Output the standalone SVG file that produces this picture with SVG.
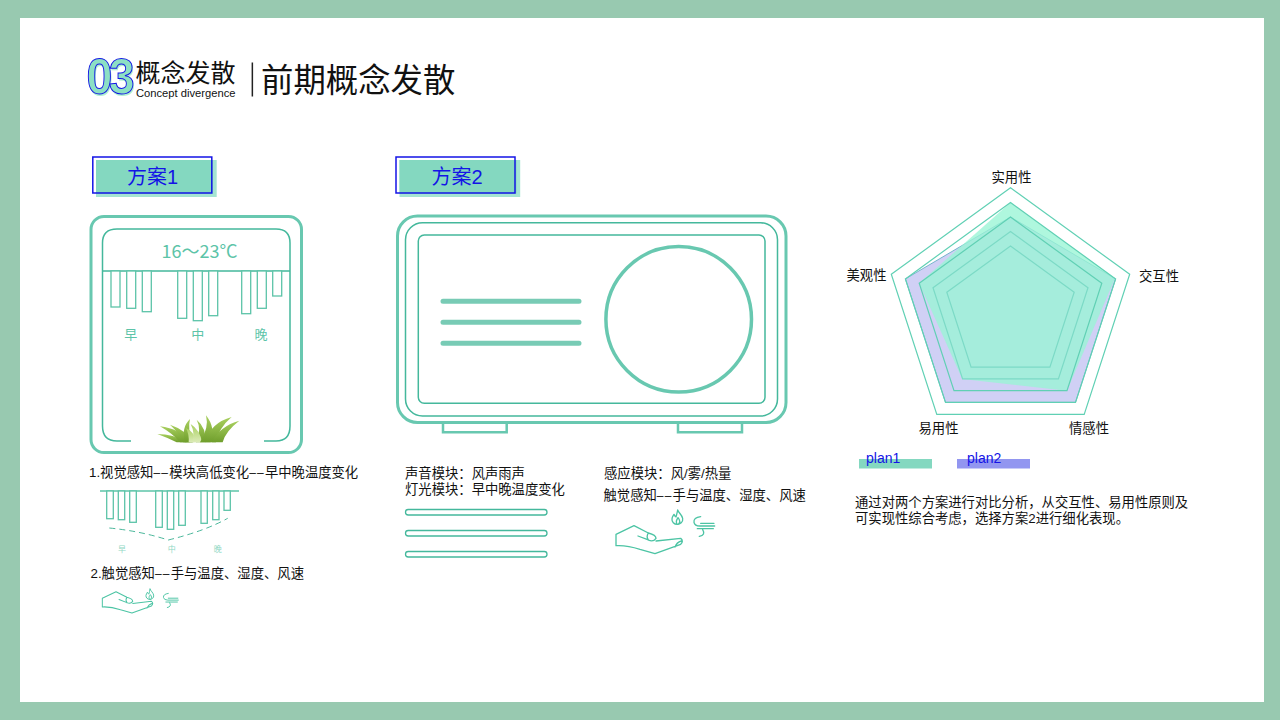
<svg xmlns="http://www.w3.org/2000/svg" xmlns:xlink="http://www.w3.org/1999/xlink" width="1280" height="720" viewBox="0 0 1280 720">
<style>
text{font-family:"Liberation Sans","Noto Sans CJK SC",sans-serif;fill:#111}
.cjk{font-family:"Noto Sans CJK SC","Liberation Sans",sans-serif}
.t13{font-size:13.330px}
.dash{font-size:12px;letter-spacing:1.200px}
.mid{text-anchor:middle}
.teal{fill:#5cc4a8}
.blue{fill:#1414e6}
.o3{fill:none;stroke:#68c8b0;stroke-width:3}
.o2{fill:none;stroke:#44b89c;stroke-width:1.5}
.bar{fill:#fff;stroke:#5cc4a8;stroke-width:1.3}
.ico{fill:none;stroke:#4cc4a4;stroke-linecap:round;stroke-linejoin:round}
.badge{fill:#84d8c0}
.badgeb{fill:none;stroke:#1414e6;stroke-width:1.5}
.ring{fill:none;stroke:#60d0b4;stroke-width:1.200}
.ringi{fill:none;stroke:#7cdac6;stroke-width:1.200}
.blade{fill:url(#gr)}
.bladel{fill:url(#grl)}
</style>
<defs>
<linearGradient id="gr" x1="0" y1="0" x2="0" y2="1"><stop offset="0" stop-color="#a9d05f"/><stop offset="1" stop-color="#6f9e2c"/></linearGradient>
<linearGradient id="grl" x1="0" y1="0" x2="0" y2="1"><stop offset="0" stop-color="#a9d05f"/><stop offset="1" stop-color="#dcebb8"/></linearGradient>
<g id="hand">
<path d="M18 122L18 88L72 62L115 84Q138 90 138 100Q130 112 115 105L84 93M138 108L212 100Q222 108 212 118L135 146L90 133Q50 120 18 122M195 126Q200 112 214 108M115 84Q108 95 115 105"/>
</g>
<g id="flame">
<path d="M203 15C207 25 215 28 218 40C220 52 210 58 202 58C192 58 185 50 186 42C186 36 190 32 192 28C194 33 196 35 198 36C200 28 202 22 203 15ZM202 58C195 50 200 45 204 38C210 45 212 52 205 58"/>
</g>
<g id="wind">
<path d="M272 35Q250 38 252 52Q254 63 270 63L314 63M272 55L312 55M262 71L310 71M278 74Q288 90 268 94"/>
</g>
</defs>
<rect width="1280" height="720" fill="#98c9b0"/>
<rect x="20" y="18" width="1244" height="684" fill="#fff"/>

<g id="header">
<text font-size="50" letter-spacing="-4" font-weight="bold" style="fill:#aef0d0;font-family:'Liberation Sans'" transform="translate(87.500 95.500) scale(.93 1)">03</text>
<text font-size="50" letter-spacing="-4" font-weight="bold" style="fill:#8ce0c4;stroke:#1414e6;stroke-width:1;font-family:'Liberation Sans'" transform="translate(86.500 94) scale(.93 1)">03</text>
<text x="135.500" y="82" font-size="25" class="cjk">概念发散</text>
<text x="136" y="97" font-size="11.200">Concept divergence</text>
<rect x="251.600" y="62.500" width="1.500" height="34" fill="#222"/>
<text x="261" y="92" font-size="32.400" class="cjk">前期概念发散</text>
</g>

<g id="badge1">
<rect x="96" y="160" width="120.700" height="37" fill="#a5e4d2"/>
<rect x="96" y="160" width="117" height="33.500" class="badge"/>
<rect x="92.800" y="157" width="119" height="36" class="badgeb"/>
<text x="152.500" y="184" font-size="20" class="blue mid">方案1</text>
</g>
<g id="badge2">
<rect x="399.500" y="160" width="120.700" height="37" fill="#a5e4d2"/>
<rect x="399.500" y="160" width="117" height="33.500" class="badge"/>
<rect x="396" y="157" width="119" height="36" class="badgeb"/>
<text x="457" y="184" font-size="20" class="blue mid">方案2</text>
</g>

<g id="device1">
<rect x="91" y="216.500" width="210.500" height="236" rx="13" class="o3"/>
<path d="M131 441H117Q102.500 441 102.500 426V243Q102.500 229 117 229H276Q290 229 290 243V426Q290 441 276 441H264M102.500 271H290" class="o2"/>
<rect x="111" y="271" width="9" height="36" class="bar"/>
<rect x="126.700" y="271" width="9" height="37.300" class="bar"/>
<rect x="142.300" y="271" width="9" height="40.700" class="bar"/>
<rect x="177.700" y="271" width="9" height="47.300" class="bar"/>
<rect x="193.300" y="271" width="9" height="49.700" class="bar"/>
<rect x="208.700" y="271" width="9" height="44.700" class="bar"/>
<rect x="241.700" y="271" width="9" height="42.700" class="bar"/>
<rect x="257.300" y="271" width="9" height="37.300" class="bar"/>
<rect x="272.700" y="271" width="9" height="25" class="bar"/>
<text x="199.500" y="258" font-size="18" class="teal mid cjk">16～23°C</text>
<text x="130.700" y="339" font-size="13" class="teal mid">早</text>
<text x="197.700" y="339" font-size="13" class="teal mid">中</text>
<text x="261" y="339" font-size="13" class="teal mid">晚</text>
<g id="grass" transform="translate(150 408) scale(.3333)">
<path d="M22 78Q70 78 110 103L80 103Q55 90 22 78Z" class="blade"/>
<path d="M30 55Q90 62 120 103L90 103Q70 78 30 55Z" class="blade"/>
<path d="M60 50Q108 66 130 103L100 103Q90 78 60 50Z" class="blade"/>
<path d="M120 33Q92 60 106 103L128 103Q112 65 120 33Z" class="blade"/>
<path d="M108 60Q132 70 140 103L116 103Q118 80 108 60Z" class="bladel"/>
<path d="M140 35Q170 60 166 103L138 103Q156 65 140 35Z" class="blade"/>
<path d="M122 48Q150 66 156 103L126 103Q136 75 122 48Z" class="bladel"/>
<path d="M168 22Q198 60 182 103L150 103Q178 60 168 22Z" class="blade"/>
<path d="M245 27Q182 44 165 103L198 103Q206 60 245 27Z" class="blade"/>
<path d="M268 38Q210 54 185 103L218 103Q226 70 268 38Z" class="blade"/>
</g>
</g>

<g id="device2">
<rect x="397.500" y="216" width="388.500" height="206.500" rx="20" class="o3"/>
<rect x="405.500" y="222.800" width="372" height="193.200" rx="17" class="o2"/>
<rect x="418.300" y="235" width="346.700" height="168.300" rx="6" class="o2"/>
<circle cx="678.700" cy="319.300" r="72.800" fill="none" stroke="#68c8b0" stroke-width="3.500"/>
<path d="M443 301.300H579M443 322.300H579M443 343.300H579" stroke="#78cbb5" stroke-width="5" stroke-linecap="round" fill="none"/>
<path d="M443 423V432.300H506.700V423M678 423V432.300H742V423" class="o3" style="stroke-width:2.500"/>
</g>

<g id="text1">
<text x="89" y="477" class="t13">1.视觉感知<tspan class="dash">––</tspan>模块高低变化<tspan class="dash">––</tspan>早中晚温度变化</text>
</g>
<g id="chart1">
<path d="M100 491H239" stroke="#5cc4a8" stroke-width="1.300"/>
<rect x="106.700" y="491" width="6.600" height="27.700" class="bar"/>
<rect x="118.300" y="491" width="6.400" height="28.700" class="bar"/>
<rect x="129.700" y="491" width="6.600" height="31.300" class="bar"/>
<rect x="155.700" y="491" width="6.600" height="36.300" class="bar"/>
<rect x="167.300" y="491" width="6.400" height="38.300" class="bar"/>
<rect x="178.700" y="491" width="6.600" height="34.300" class="bar"/>
<rect x="201" y="491" width="6.300" height="32.300" class="bar"/>
<rect x="212.700" y="491" width="6.300" height="28.700" class="bar"/>
<rect x="224" y="491" width="6.300" height="19.300" class="bar"/>
<path d="M109.300 528Q140 531 168.300 540Q205 531 227.700 518.300" fill="none" stroke="#4cb89c" stroke-width="1" stroke-dasharray="6 4"/>
<text x="122" y="552" font-size="8" class="mid" style="fill:#8fd8c4">早</text>
<text x="171.700" y="552" font-size="8" class="mid" style="fill:#8fd8c4">中</text>
<text x="217.700" y="552" font-size="8" class="mid" style="fill:#8fd8c4">晚</text>
</g>
<g id="text2">
<text x="90.500" y="578" class="t13">2.触觉感知<tspan class="dash">––</tspan>手与温度、湿度、风速</text>
</g>
<g id="touch1" transform="translate(95 585) scale(.3333)" class="ico" stroke-width="4">
<use href="#hand" transform="translate(8.300 -26.900) scale(.76)"/>
<use href="#flame" transform="translate(19 1.500) scale(.72)"/>
<use href="#wind" transform="translate(24 0) scale(.72)"/>
</g>

<g id="text3">
<text x="405" y="477.500" class="t13">声音模块：风声雨声</text>
<text x="405" y="493.500" class="t13">灯光模块：早中晚温度变化</text>
<text x="604" y="477.500" class="t13">感应模块：风/雾/热量</text>
<text x="603.500" y="499.500" class="t13">触觉感知<tspan class="dash">––</tspan>手与温度、湿度、风速</text>
</g>
<g id="bars2">
<rect x="405.500" y="509.500" width="141.500" height="5.500" rx="2.700" fill="#fff" stroke="#44b89c" stroke-width="1.300"/>
<rect x="405.500" y="530.500" width="141.500" height="5.500" rx="2.700" fill="#fff" stroke="#44b89c" stroke-width="1.300"/>
<rect x="405.500" y="551.500" width="141.500" height="5.500" rx="2.700" fill="#fff" stroke="#44b89c" stroke-width="1.300"/>
</g>
<g id="touch2" transform="translate(610 505) scale(.3333)" class="ico" stroke-width="4">
<use href="#hand"/>
<use href="#flame"/>
<use href="#wind"/>
</g>

<g id="radar">
<polygon points="1010.500,217 1115.600,278.900 1075.500,402.400 945.500,402.400 905.400,278.900" fill="#d0d0f5" stroke="#5aa8c0" stroke-width=".8"/>
<polygon points="1010.500,202.500 1115,278.300 1067,390.700 962.300,379 919.200,283.300" fill="#98f5d5" fill-opacity=".78"/>
<polygon points="1010.500,246 1074.200,292.300 1049.900,367.200 971.100,367.200 946.800,292.300" class="ringi"/>
<polygon points="1010.500,231.500 1088,287.800 1058.400,378.900 962.600,378.900 933,287.800" class="ringi"/>
<polygon points="1010.500,217 1101.800,283.300 1067,390.700 954,390.700 919.200,283.300" class="ring"/>
<polygon points="1010.500,202.500 1115.600,278.900 1075.500,402.400 945.500,402.400 905.400,278.900" class="ring"/>
<polygon points="1010.500,187.700 1129.700,274.300 1084.200,414.400 936.800,414.400 891.300,274.300" class="ring"/>
<text x="1011.500" y="182" class="t13 mid">实用性</text>
<text x="866.500" y="280" class="t13 mid">美观性</text>
<text x="1159" y="281" class="t13 mid">交互性</text>
<text x="938.500" y="432.500" class="t13 mid">易用性</text>
<text x="1089" y="432.500" class="t13 mid">情感性</text>
</g>

<g id="legend">
<rect x="859" y="459" width="73" height="9.500" fill="#84d8c0"/>
<text x="866" y="463" font-size="14" class="blue">plan1</text>
<rect x="957" y="459" width="73" height="9.500" fill="#9296f0"/>
<text x="967" y="463" font-size="14" class="blue">plan2</text>
</g>

<g id="summary">
<text x="855" y="507" font-size="13.330">通过对两个方案进行对比分析，从交互性、易用性原则及</text>
<text x="855" y="523" font-size="13.330">可实现性综合考虑，选择方案2进行细化表现。</text>
</g>
</svg>
